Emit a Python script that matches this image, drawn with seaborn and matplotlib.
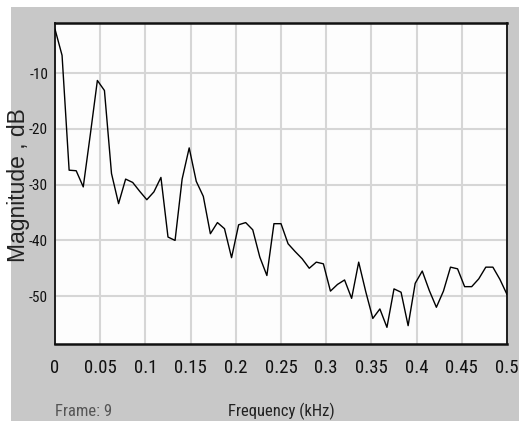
import numpy as np
import pandas as pd
import matplotlib
matplotlib.use("Agg")
import matplotlib.pyplot as plt
import seaborn as sns
from matplotlib.patches import Rectangle
import logging
logging.getLogger("matplotlib.font_manager").setLevel(logging.ERROR)

# ---- data ----
freq_step_khz = 0.5 / 64
bin_index = list(range(65))
magnitude_db = [
    -2.1, -6.8, -27.4, -27.5, -30.4, -21.0, -11.3, -13.1, -28.0, -33.4,
    -29.0, -29.6, -31.2, -32.7, -31.3, -28.7, -39.4, -40.0, -29.0, -23.4,
    -29.4, -32.1, -38.8, -36.8, -37.9, -43.1, -37.2, -36.8, -38.1, -43.0,
    -46.3, -37.0, -37.0, -40.6, -42.0, -43.3, -45.0, -43.9, -44.2, -49.1,
    -47.9, -47.1, -50.4, -43.9, -49.2, -54.0, -52.3, -55.6, -48.7, -49.3,
    -55.3, -47.7, -45.5, -49.0, -52.0, -49.1, -44.8, -45.1, -48.3, -48.3,
    -46.9, -44.8, -44.8, -47.0, -49.7,
]
x_ticks = [0, 0.05, 0.1, 0.15, 0.2, 0.25, 0.3, 0.35, 0.4, 0.45, 0.5]
x_tick_labels = ["0", "0.05", "0.1", "0.15", "0.2", "0.25", "0.3", "0.35", "0.4", "0.45", "0.5"]
y_ticks = [-10, -20, -30, -40, -50]
y_tick_labels = ["-10", "-20", "-30", "-40", "-50"]

df = pd.DataFrame({
    "freq": [k * freq_step_khz for k in bin_index],
    "mag": magnitude_db,
})

sns.set_style("white")
NARROW = ["Roboto Condensed", "Liberation Sans Narrow", "Liberation Sans", "DejaVu Sans"]
plt.rcParams["font.family"] = NARROW
plt.rcParams["font.stretch"] = "condensed"

W, H = 519, 421
fig = plt.figure(figsize=(W / 100, H / 100), dpi=100)
fig.patch.set_facecolor("white")
# gray panel
fig.add_artist(Rectangle((11 / W, 0), 1 - 11 / W, (H - 7) / H,
                         transform=fig.transFigure, facecolor="#c8c8c8",
                         edgecolor="none", zorder=0))

ax = fig.add_axes([55 / W, (H - 343.5) / H, (507 - 55) / W, (343.5 - 22.5) / H])
ax.set_facecolor("#fdfdfd")
ax.set_zorder(2)

sns.lineplot(data=df, x="freq", y="mag", ax=ax, color="black", linewidth=1.0,
             zorder=3)

ax.set_xlim(0, 0.5)
ax.set_ylim(-58.5, -0.9)
ax.set_xticks(x_ticks)
ax.set_xticklabels(x_tick_labels, fontsize=13.5, color="#111111")
ax.set_yticks(y_ticks)
ax.set_yticklabels(y_tick_labels, fontsize=11, color="#111111")
ax.tick_params(axis="x", length=0, pad=11)
ax.tick_params(axis="y", length=0, pad=5)
ax.grid(True, color="#d6d6d6", linewidth=1.5)
for side in ["top", "bottom", "left", "right"]:
    ax.spines[side].set_visible(True)
    ax.spines[side].set_color("#111111")
    ax.spines[side].set_linewidth(1.3)
ax.spines["top"].set_linewidth(1.8)
ax.spines["bottom"].set_linewidth(1.8)

ax.set_xlabel("")
ax.set_ylabel("Magnitude , dB", fontsize=16.5,
              family=["Liberation Sans", "DejaVu Sans"], stretch="normal",
              color="#222222")
ax.yaxis.set_label_coords((30 - 55) / (507 - 55), (343.5 - 185) / (343.5 - 22.5))

fig.text(281 / W, 1 - 411 / H, "Frequency (kHz)", ha="center", va="center",
         fontsize=12, color="#222222")
fig.text(55 / W, 1 - 411 / H, "Frame: 9", ha="left", va="center",
         fontsize=12, color="#555555")

fig.savefig("out.png", dpi=100, facecolor=fig.get_facecolor())
